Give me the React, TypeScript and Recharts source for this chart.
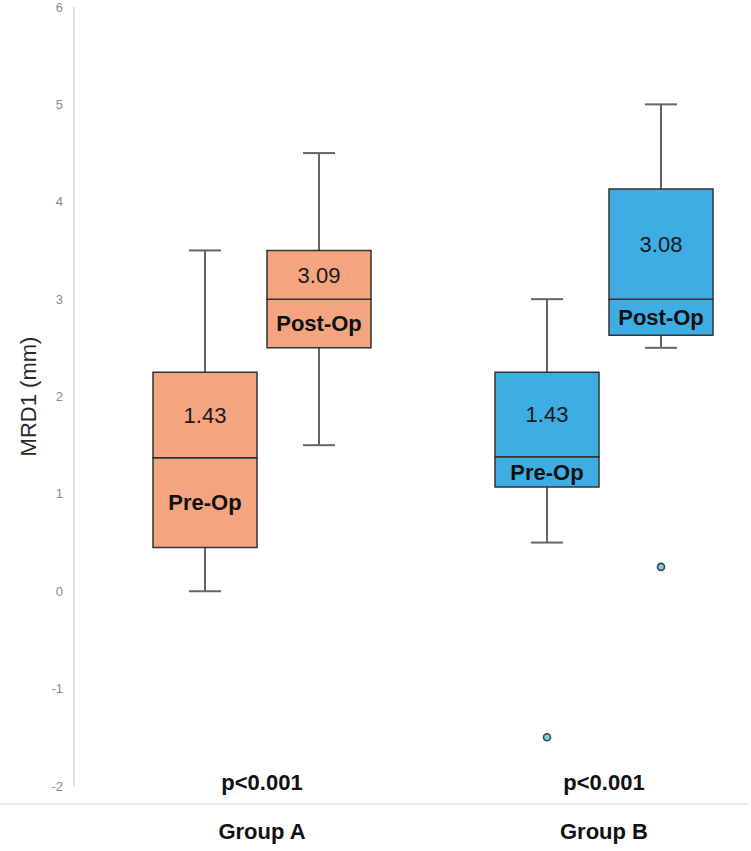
import React from 'react';
import {
  ComposedChart,
  Bar,
  XAxis,
  YAxis,
  Scatter,
  LabelList,
  ReferenceLine,
  Label,
  Cell,
} from 'recharts';

// ---- data ----
const categories = ['A-Pre', 'A-Post', 'gap', 'B-Pre', 'B-Post'];
const slots = [0.5, 1.5, 2.5, 3.5, 4.5];
const mins = [0, 1.5, null, 0.5, 2.5];
const q1s = [0.45, 2.5, null, 1.07, 2.63];
const medians = [1.37, 3.0, null, 1.38, 3.0];
const q3s = [2.25, 3.5, null, 2.25, 4.13];
const maxs = [3.5, 4.5, null, 3.0, 5.0];
const meanLabels = ['1.43', '3.09', '', '1.43', '3.08'];
const phaseLabels = ['Pre-Op', 'Post-Op', '', 'Pre-Op', 'Post-Op'];
const outliers = [null, null, null, -1.5, 0.25];
const boxColors = ['#F4A57F', '#F4A57F', 'none', '#3EADE3', '#3EADE3'];

const groupNames = ['Group A', 'Group B'];
const groupPositions = [1, 4];
const groupAxisTicks = [0, 1, 4, 5];
const pValues = ['p<0.001', 'p<0.001'];
const yTicks = [-2, -1, 0, 1, 2, 3, 4, 5, 6];

// decorative divider (below the plot)
const dividerValue = -2.185;
const dividerSpan = [-1.3, 5.26];

const data = categories.map((name, i) => ({
  name,
  slot: slots[i],
  whisker: mins[i] == null ? undefined : [mins[i], maxs[i]],
  lower: q1s[i] == null ? undefined : [q1s[i], medians[i]],
  upper: q3s[i] == null ? undefined : [medians[i], q3s[i]],
  outlier: outliers[i] == null ? undefined : outliers[i],
  mean: meanLabels[i],
  phase: phaseLabels[i],
}));

const WhiskerShape = (props: any) => {
  const { x, y, width, height } = props;
  if (x == null || y == null || !isFinite(y) || !isFinite(height)) return null;
  const cx = x + width / 2;
  const top = Math.min(y, y + height);
  const bottom = Math.max(y, y + height);
  return (
    <g stroke="#666" strokeWidth={2}>
      <line x1={cx} x2={cx} y1={top} y2={bottom} />
      <line x1={cx - 16} x2={cx + 16} y1={top} y2={top} />
      <line x1={cx - 16} x2={cx + 16} y1={bottom} y2={bottom} />
    </g>
  );
};

const OutlierShape = (props: any) => {
  const { cx, cy } = props;
  if (cx == null || cy == null || !isFinite(cy)) return null;
  return <circle cx={cx} cy={cy} r={3.5} fill="#8cc4de" stroke="#2d4a5a" strokeWidth={1.6} />;
};

const GroupTick = (props: any) => {
  const { x, y, payload } = props;
  const i = groupPositions.indexOf(payload.value);
  if (i < 0) return null;
  return (
    <g>
      <text x={x} y={y + 4} textAnchor="middle" fontWeight="bold" fontSize={22} fill="#111">
        {pValues[i]}
      </text>
      <text x={x} y={y + 53} textAnchor="middle" fontWeight="bold" fontSize={22} fill="#111">
        {groupNames[i]}
      </text>
    </g>
  );
};

const YLabel = (props: any) => {
  const vb = props.viewBox || { x: 0, y: 7, width: 74, height: 779 };
  const x = vb.x + 28;
  const y = vb.y + vb.height / 2;
  return (
    <text
      x={x}
      y={y}
      transform={`rotate(-90, ${x}, ${y})`}
      textAnchor="middle"
      dominantBaseline="central"
      fontSize={22}
      fill="#2a2a2a"
    >
      MRD1 (mm)
    </text>
  );
};

export default function App() {
  return (
    <div
      style={{
        position: 'absolute',
        left: 0,
        top: 0,
        width: 751,
        height: 851,
        background: '#fff',
        fontFamily: '"Liberation Sans", Arial, Helvetica, sans-serif',
      }}
    >
      <ComposedChart
        width={751}
        height={851}
        data={data}
        margin={{ top: 7, right: 10, left: 0, bottom: 5 }}
        barGap={-104}
        barCategoryGap={0}
      >
        <XAxis
          xAxisId="box"
          dataKey="name"
          type="category"
          hide
          height={0}
          padding={{ left: 74, right: 23 }}
        />
        <XAxis
          xAxisId="grp"
          dataKey="slot"
          type="number"
          domain={[0, 5]}
          allowDataOverflow
          ticks={groupAxisTicks}
          padding={{ left: 74, right: 23 }}
          axisLine={false}
          tickLine={false}
          tickSize={0}
          tickMargin={0}
          height={60}
          tick={<GroupTick />}
          interval={0}
        />
        <YAxis
          type="number"
          domain={[-2, 6]}
          ticks={yTicks}
          width={74}
          axisLine={{ stroke: '#d9d9d9', strokeWidth: 1.5 }}
          tickLine={false}
          tickSize={0}
          tickMargin={11}
          tick={{ fill: '#8a8a8a', fontSize: 13 }}
          interval={0}
        >
          <Label content={<YLabel />} />
        </YAxis>
        <ReferenceLine
          xAxisId="grp"
          segment={[
            { x: dividerSpan[0], y: dividerValue },
            { x: dividerSpan[1], y: dividerValue },
          ]}
          stroke="#e3e3e3"
          strokeWidth={1.5}
          ifOverflow="visible"
        />
        <Bar
          xAxisId="box"
          dataKey="whisker"
          barSize={104}
          shape={<WhiskerShape />}
          isAnimationActive={false}
        />
        <Bar
          xAxisId="box"
          dataKey="lower"
          barSize={104}
          stroke="#333"
          strokeWidth={1.5}
          isAnimationActive={false}
        >
          {data.map((d, i) => (
            <Cell key={d.name} fill={boxColors[i]} />
          ))}
          <LabelList
            dataKey="phase"
            position="center"
            fill="#111"
            fontSize={22}
            fontWeight="bold"
          />
        </Bar>
        <Bar
          xAxisId="box"
          dataKey="upper"
          barSize={104}
          stroke="#333"
          strokeWidth={1.5}
          isAnimationActive={false}
        >
          {data.map((d, i) => (
            <Cell key={d.name} fill={boxColors[i]} />
          ))}
          <LabelList dataKey="mean" position="center" fill="#1a1a1a" fontSize={22} />
        </Bar>
        <Scatter
          xAxisId="box"
          dataKey="outlier"
          shape={<OutlierShape />}
          isAnimationActive={false}
        />
      </ComposedChart>
    </div>
  );
}
